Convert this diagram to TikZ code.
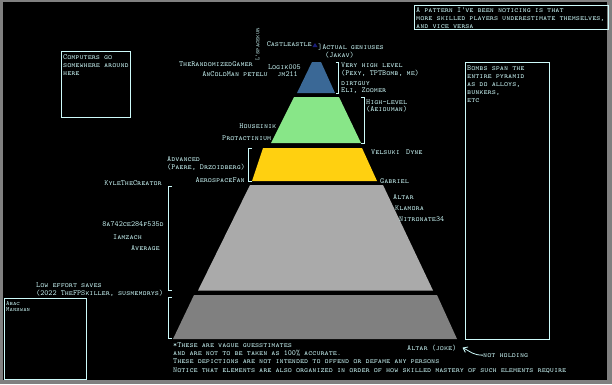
\documentclass[tikz,border=0pt]{standalone}
\usetikzlibrary{arrows.meta,positioning}
\definecolor{pixcyan}{RGB}{205,250,250}
\definecolor{framegray}{RGB}{128,128,128}
\definecolor{tipblue}{RGB}{25,30,120}
\definecolor{lvlblue}{RGB}{58,104,150}
\definecolor{lvlgreen}{RGB}{136,230,136}
\definecolor{lvlyellow}{RGB}{255,208,16}
\definecolor{lvlgray}{RGB}{170,170,170}
\definecolor{lvldark}{RGB}{128,128,128}
\tikzset{
  lbl/.style={text=pixcyan, font=\fontsize{7.8}{8}\selectfont\ttfamily\scshape,
              inner sep=0pt, anchor=base west, align=left},
  lblr/.style={lbl, anchor=base east, align=right},
  notebox/.style={draw=pixcyan, thick},
  brace/.style={draw=pixcyan, thick},
  arr/.style={-{Straight Barb[length=4pt,width=6pt]}, pixcyan, thick},
}
\begin{document}
\begin{tikzpicture}[x=1pt,y=-1pt]
\useasboundingbox (0,0) rectangle (612,384);
\fill[framegray] (0,0) rectangle (612,384);
\fill[black] (3,2) rectangle (607,380);

% pyramid levels
\fill[lvlblue] (312,62) -- (321,62) -- (335,93) -- (297,93) -- cycle;
\fill[lvlgreen] (294,97) -- (339,97) -- (361,143) -- (271,143) -- cycle;
\fill[lvlyellow] (263,148) -- (362,148) -- (377,181) -- (252,181) -- cycle;
\fill[lvlgray] (250,185) -- (383,185) -- (433,290.5) -- (198,290.5) -- cycle;
\fill[lvldark] (194,295) -- (437,295) -- (457,339) -- (173,339) -- cycle;
\fill[tipblue] (315,43) -- (317.5,47) -- (312.5,47) -- cycle;

% brackets
\draw[brace] (335.5,62) -- (338.5,62) -- (338.5,93) -- (335.5,93);
\draw[brace] (361,97) -- (364.5,97) -- (364.5,143) -- (361,143);
\draw[brace] (252,148) -- (248.5,148) -- (248.5,181) -- (252,181);
\draw[brace] (172,186) -- (168.5,186) -- (168.5,290) -- (172,290);
\draw[brace] (172,297) -- (168.5,297) -- (168.5,338) -- (172,338);

% note boxes (base = last line)
\draw[notebox] (414,5) rectangle (608,29.5);
\node[lbl] (pattern) at (416,28) {A pattern I've been noticing is that\\more skilled players underestimate themselves,\\and vice versa};
\draw[notebox] (61,51) rectangle (130,117);
\node[lbl] (computers) at (63,75.5) {Computers go\\somewhere around\\here};
\draw[notebox] (465,62) rectangle (549,339);
\node[lbl] (bombs) at (467,102) {Bombs span the\\entire pyramid\\as do alloys,\\bunkers,\\etc};
\draw[notebox] (4,298) rectangle (86,379);
\node[lbl, font=\fontsize{6.5}{6.5}\selectfont\ttfamily\scshape] (abac) at (6,311.5) {Abac\\Manswan};

% top level
\node[lblr] (castle) at (312,46) {Castleastle};
\node[lbl] (genius) at (318,49) {]Actual geniuses};
\node[lbl] (jakav) at (325,57) {(Jakav)};
\node[lbl, rotate=90, anchor=west, font=\fontsize{6.2}{6}\selectfont\ttfamily\scshape] (spacekur) at (257.5,61) {L'spacekur};
\node[lblr] (randomized) at (253,66) {TheRandomizedGamer};
\node[lblr] (ancold) at (268,76) {AnColdMan petelu};
\node[lblr] (logik) at (301,69) {Logik005};
\node[lblr] (jm) at (298,76.5) {jm211};
\node[lbl] (veryhigh) at (341,67.5) {Very high level};
\node[lbl] (pexy) at (341,75.5) {(Pexy, TPTBomb, me)};
\node[lbl] (dirtguy) at (341,85.5) {dirtguy};
\node[lbl] (eli) at (341,92) {Eli, Zoomer};

% high level
\node[lbl] (highlvl) at (366,104) {High-level};
\node[lbl] (aeiou) at (366,111) {(Aeiouman)};
\node[lblr] (houseinik) at (276.5,128) {Houseinik};
\node[lblr] (protac) at (271.5,140) {Protactinium};

% advanced
\node[lbl] (velsuki) at (371,154) {Velsuki};
\node[lbl] (dyne) at (406,154) {Dyne};
\node[lbl] (advanced) at (167,161) {Advanced};
\node[lbl] (paere) at (167,169) {(Paere, Drzoidberg)};
\node[lblr] (aero) at (245,182) {AerospaceFan};
\node[lbl] (gabriel) at (380,183) {Gabriel};

% average
\node[lblr] (kyle) at (162,185) {KyleTheCreator};
\node[lblr] (hash) at (164,226) {8a742ce284f535d};
\node[lbl] (iamzach) at (113,239) {Iamzach};
\node[lblr] (average) at (160,250) {Average};
\node[lbl] (altar) at (393,199) {Altar};
\node[lbl] (klamora) at (395,210) {Klamora};
\node[lbl] (nitro) at (399,221) {Nitronate34};

% low effort
\node[lbl] (loweffort) at (36,287) {Low effort saves};
\node[lbl] (fpskiller) at (36,295) {(2022 TheFPSkiller, susmemorys)};

% footer
\node[lbl] (vague) at (173,347) {*These are vague guesstimates};
\node[lbl] (accurate) at (173,355) {and are not to be taken as 100\% accurate.};
\node[lbl] (offend) at (173,363) {These depictions are not intended to offend or defame any persons};
\node[lbl] (notice) at (173,372) {Notice that elements are also organized in order of how skilled mastery of such elements require};
\node[lbl] (joke) at (407,350) {Altar (joke)};
\node[lbl] (nothold) at (483,357) {not holding};
\draw[arr] (nothold.west) .. controls +(-10,0) and +(8,4) .. ([xshift=6pt]joke.east);
\end{tikzpicture}
\end{document}
